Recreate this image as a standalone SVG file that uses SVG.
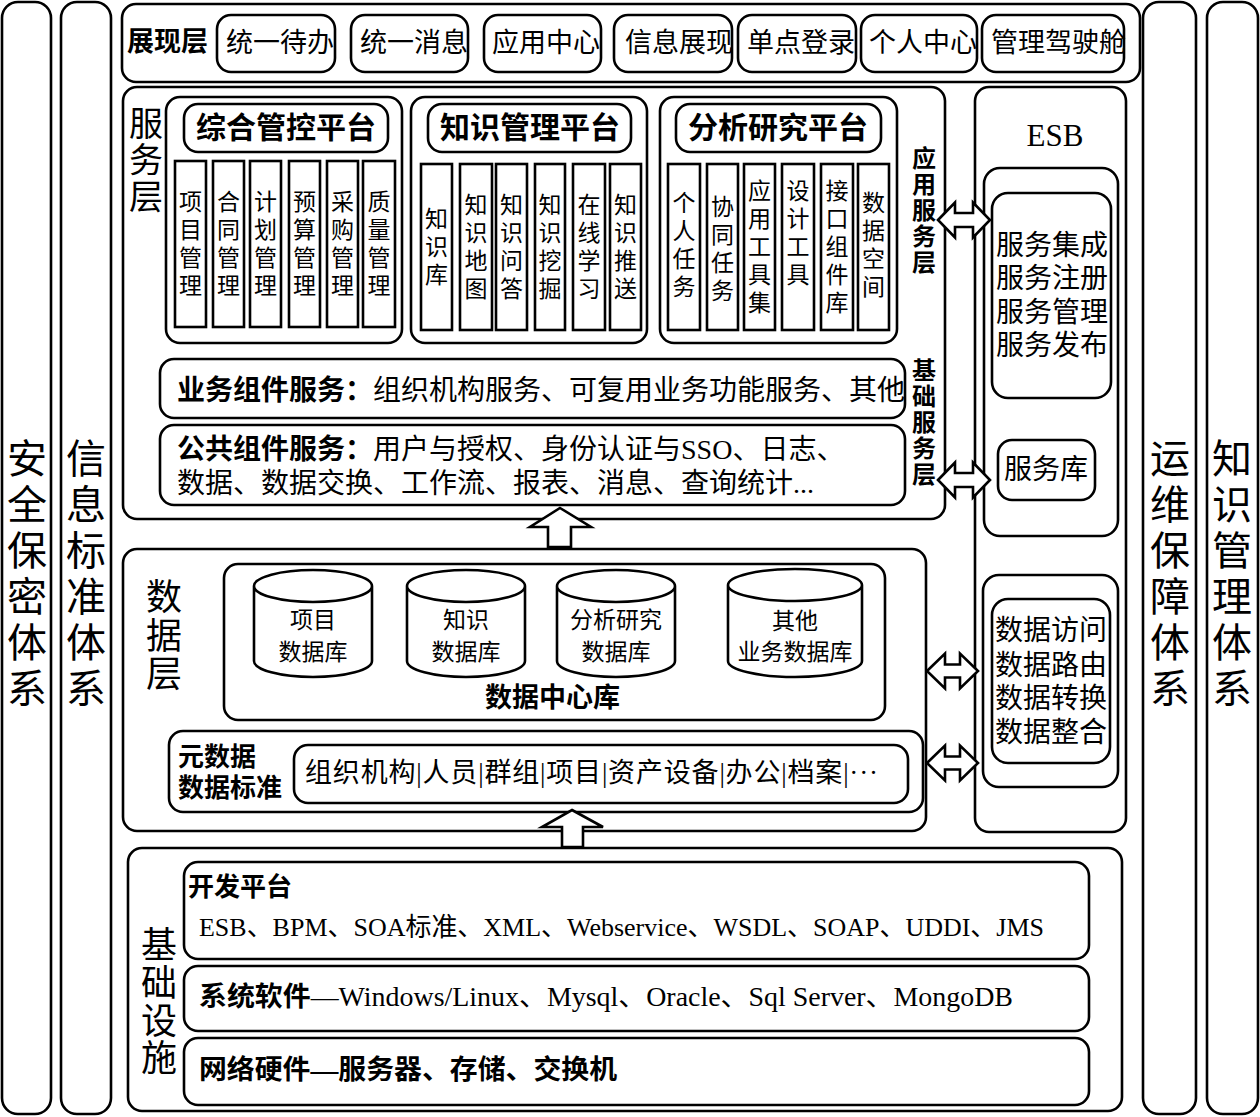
<svg xmlns="http://www.w3.org/2000/svg" width="1260" height="1117" viewBox="0 0 1260 1117">
<style>
.b{fill:none;stroke:#000;stroke-width:2.6}
.w{fill:#fff;stroke:#000;stroke-width:2.6;stroke-linejoin:miter}
text{font-family:"Liberation Serif","Noto Sans CJK SC",sans-serif;fill:#000;dominant-baseline:central}
.k{font-weight:bold}
.m{text-anchor:middle}
.s40{font-size:40px}
.s36{font-size:36px}
.col{font-size:23px;text-anchor:middle}
.it{font-size:27px}
</style>
<rect width="1260" height="1117" fill="#fff"/>

<g id="security">
<rect class="b" x="2" y="2" width="49" height="1112" rx="16"/>
<text class="s40 m"><tspan x="27" y="459">安</tspan><tspan x="27" y="505">全</tspan><tspan x="27" y="551">保</tspan><tspan x="27" y="597">密</tspan><tspan x="27" y="643">体</tspan><tspan x="27" y="689">系</tspan></text>
</g>
<g id="infostd">
<rect class="b" x="61" y="2" width="50" height="1112" rx="16"/>
<text class="s40 m"><tspan x="86" y="459">信</tspan><tspan x="86" y="505">息</tspan><tspan x="86" y="551">标</tspan><tspan x="86" y="597">准</tspan><tspan x="86" y="643">体</tspan><tspan x="86" y="689">系</tspan></text>
</g>
<g id="ops">
<rect class="b" x="1143" y="2" width="53" height="1112" rx="16"/>
<text class="s40 m"><tspan x="1170" y="459">运</tspan><tspan x="1170" y="505">维</tspan><tspan x="1170" y="551">保</tspan><tspan x="1170" y="597">障</tspan><tspan x="1170" y="643">体</tspan><tspan x="1170" y="689">系</tspan></text>
</g>
<g id="km">
<rect class="b" x="1207" y="2" width="51" height="1112" rx="16"/>
<text class="s40 m"><tspan x="1232" y="459">知</tspan><tspan x="1232" y="505">识</tspan><tspan x="1232" y="551">管</tspan><tspan x="1232" y="597">理</tspan><tspan x="1232" y="643">体</tspan><tspan x="1232" y="689">系</tspan></text>
</g>

<g id="presentation">
<rect class="b" x="122" y="4" width="1018" height="78" rx="14"/>
<text class="k" x="127" y="42" font-size="27">展现层</text>
<g id="p1"><rect class="b" x="217" y="15" width="118" height="57" rx="14"/><text class="it" x="226" y="43">统一待办</text></g>
<g id="p2"><rect class="b" x="351" y="15" width="117" height="57" rx="14"/><text class="it" x="360" y="43">统一消息</text></g>
<g id="p3"><rect class="b" x="484" y="15" width="117" height="57" rx="14"/><text class="it" x="492" y="43">应用中心</text></g>
<g id="p4"><rect class="b" x="614" y="15" width="118" height="57" rx="14"/><text class="it" x="625" y="43">信息展现</text></g>
<g id="p5"><rect class="b" x="738" y="15" width="118" height="57" rx="14"/><text class="it" x="747" y="43">单点登录</text></g>
<g id="p6"><rect class="b" x="861" y="15" width="116" height="57" rx="14"/><text class="it" x="869" y="43">个人中心</text></g>
<g id="p7"><rect class="b" x="982" y="15" width="142" height="57" rx="14"/><text class="it" x="991" y="43">管理驾驶舱</text></g>
</g>

<g id="service">
<rect class="b" x="123" y="87" width="822" height="432" rx="14"/>
<text class="m" font-size="34"><tspan x="146" y="124">服</tspan><tspan x="146" y="160">务</tspan><tspan x="146" y="197">层</tspan></text>
<text class="k m" font-size="24"><tspan x="924" y="159">应</tspan><tspan x="924" y="185">用</tspan><tspan x="924" y="211">服</tspan><tspan x="924" y="237">务</tspan><tspan x="924" y="263">层</tspan></text>
<text class="k m" font-size="24"><tspan x="924" y="371">基</tspan><tspan x="924" y="397">础</tspan><tspan x="924" y="423">服</tspan><tspan x="924" y="449">务</tspan><tspan x="924" y="475">层</tspan></text>
</g>

<g id="zhgk">
<rect class="b" x="166" y="97" width="236" height="246" rx="14"/>
<rect class="b" x="184" y="104" width="204" height="48" rx="14"/>
<text class="k m" x="286" y="127" font-size="30">综合管控平台</text>
<rect class="b" x="175" y="161" width="31" height="166"/>
<text class="col"><tspan x="190.5" y="202">项</tspan><tspan x="190.5" y="230">目</tspan><tspan x="190.5" y="258">管</tspan><tspan x="190.5" y="286">理</tspan></text>
<rect class="b" x="213" y="161" width="31" height="166"/>
<text class="col"><tspan x="228.5" y="202">合</tspan><tspan x="228.5" y="230">同</tspan><tspan x="228.5" y="258">管</tspan><tspan x="228.5" y="286">理</tspan></text>
<rect class="b" x="250" y="161" width="31" height="166"/>
<text class="col"><tspan x="265.5" y="202">计</tspan><tspan x="265.5" y="230">划</tspan><tspan x="265.5" y="258">管</tspan><tspan x="265.5" y="286">理</tspan></text>
<rect class="b" x="289" y="161" width="31" height="166"/>
<text class="col"><tspan x="304.5" y="202">预</tspan><tspan x="304.5" y="230">算</tspan><tspan x="304.5" y="258">管</tspan><tspan x="304.5" y="286">理</tspan></text>
<rect class="b" x="327" y="161" width="31" height="166"/>
<text class="col"><tspan x="342.5" y="202">采</tspan><tspan x="342.5" y="230">购</tspan><tspan x="342.5" y="258">管</tspan><tspan x="342.5" y="286">理</tspan></text>
<rect class="b" x="363" y="161" width="32" height="166"/>
<text class="col"><tspan x="379" y="202">质</tspan><tspan x="379" y="230">量</tspan><tspan x="379" y="258">管</tspan><tspan x="379" y="286">理</tspan></text>
</g>

<g id="zsgl">
<rect class="b" x="411" y="97" width="236" height="246" rx="14"/>
<rect class="b" x="428" y="104" width="203" height="48" rx="14"/>
<text class="k m" x="530" y="127" font-size="30">知识管理平台</text>
<rect class="b" x="421" y="164" width="31" height="166"/>
<text class="col"><tspan x="436.5" y="219">知</tspan><tspan x="436.5" y="247">识</tspan><tspan x="436.5" y="275">库</tspan></text>
<rect class="b" x="460" y="164" width="32" height="166"/>
<text class="col"><tspan x="476" y="205">知</tspan><tspan x="476" y="233">识</tspan><tspan x="476" y="261">地</tspan><tspan x="476" y="289">图</tspan></text>
<rect class="b" x="496" y="164" width="31" height="166"/>
<text class="col"><tspan x="511.5" y="205">知</tspan><tspan x="511.5" y="233">识</tspan><tspan x="511.5" y="261">问</tspan><tspan x="511.5" y="289">答</tspan></text>
<rect class="b" x="535" y="164" width="30" height="166"/>
<text class="col"><tspan x="550" y="205">知</tspan><tspan x="550" y="233">识</tspan><tspan x="550" y="261">挖</tspan><tspan x="550" y="289">掘</tspan></text>
<rect class="b" x="573" y="164" width="32" height="166"/>
<text class="col"><tspan x="589" y="205">在</tspan><tspan x="589" y="233">线</tspan><tspan x="589" y="261">学</tspan><tspan x="589" y="289">习</tspan></text>
<rect class="b" x="610" y="164" width="31" height="166"/>
<text class="col"><tspan x="625.5" y="205">知</tspan><tspan x="625.5" y="233">识</tspan><tspan x="625.5" y="261">推</tspan><tspan x="625.5" y="289">送</tspan></text>
</g>

<g id="fxyj">
<rect class="b" x="660" y="97" width="237" height="246" rx="14"/>
<rect class="b" x="676" y="104" width="205" height="48" rx="14"/>
<text class="k m" x="778" y="127" font-size="30">分析研究平台</text>
<rect class="b" x="668" y="164" width="32" height="166"/>
<text class="col"><tspan x="684" y="203">个</tspan><tspan x="684" y="231">人</tspan><tspan x="684" y="259">任</tspan><tspan x="684" y="287">务</tspan></text>
<rect class="b" x="707" y="164" width="31" height="166"/>
<text class="col"><tspan x="722.5" y="207">协</tspan><tspan x="722.5" y="235">同</tspan><tspan x="722.5" y="263">任</tspan><tspan x="722.5" y="291">务</tspan></text>
<rect class="b" x="744" y="164" width="31" height="166"/>
<text class="col"><tspan x="759.5" y="191">应</tspan><tspan x="759.5" y="219">用</tspan><tspan x="759.5" y="247">工</tspan><tspan x="759.5" y="275">具</tspan><tspan x="759.5" y="303">集</tspan></text>
<rect class="b" x="782" y="164" width="32" height="166"/>
<text class="col"><tspan x="798" y="191">设</tspan><tspan x="798" y="219">计</tspan><tspan x="798" y="247">工</tspan><tspan x="798" y="275">具</tspan></text>
<rect class="b" x="821" y="164" width="32" height="166"/>
<text class="col"><tspan x="837" y="191">接</tspan><tspan x="837" y="219">口</tspan><tspan x="837" y="247">组</tspan><tspan x="837" y="275">件</tspan><tspan x="837" y="303">库</tspan></text>
<rect class="b" x="858" y="164" width="31" height="166"/>
<text class="col"><tspan x="873.5" y="203">数</tspan><tspan x="873.5" y="231">据</tspan><tspan x="873.5" y="259">空</tspan><tspan x="873.5" y="287">间</tspan></text>
</g>

<g id="bizcomp">
<rect class="b" x="160" y="359" width="745" height="59" rx="14"/>
<text x="177" y="390" font-size="28"><tspan class="k">业务组件服务：</tspan>组织机构服务、可复用业务功能服务、其他</text>
</g>
<g id="pubcomp">
<rect class="b" x="160" y="425" width="745" height="80" rx="14"/>
<text x="177" y="449" font-size="28"><tspan class="k">公共组件服务：</tspan>用户与授权、身份认证与SSO、日志、</text>
<text x="177" y="483" font-size="28">数据、数据交换、工作流、报表、消息、查询统计...</text>
</g>

<g id="data">
<rect class="b" x="123" y="549" width="803" height="282" rx="14"/>
<text class="s36 m"><tspan x="164" y="598">数</tspan><tspan x="164" y="637">据</tspan><tspan x="164" y="675">层</tspan></text>
</g>
<g id="datacenter">
<rect class="b" x="224" y="564" width="661" height="156" rx="14"/>
<text class="k" x="485" y="698" font-size="27">数据中心库</text>
<g id="db1">
<path class="b" d="M254,586 A59,16 0 0 1 372,586 L372,661 A59,16 0 0 1 254,661 Z M254,586 A59,16 0 0 0 372,586"/>
<text class="m" x="313" y="620" font-size="23">项目</text><text class="m" x="313" y="652" font-size="23">数据库</text>
</g>
<g id="db2">
<path class="b" d="M407,586 A59,16 0 0 1 525,586 L525,661 A59,16 0 0 1 407,661 Z M407,586 A59,16 0 0 0 525,586"/>
<text class="m" x="466" y="620" font-size="23">知识</text><text class="m" x="466" y="652" font-size="23">数据库</text>
</g>
<g id="db3">
<path class="b" d="M557,586 A59,16 0 0 1 675,586 L675,661 A59,16 0 0 1 557,661 Z M557,586 A59,16 0 0 0 675,586"/>
<text class="m" x="616" y="620" font-size="23">分析研究</text><text class="m" x="616" y="652" font-size="23">数据库</text>
</g>
<g id="db4">
<path class="b" d="M728,585 A67,16 0 0 1 862,585 L862,661 A67,16 0 0 1 728,661 Z M728,585 A67,16 0 0 0 862,585"/>
<text class="m" x="795" y="621" font-size="23">其他</text><text class="m" x="795" y="652" font-size="23">业务数据库</text>
</g>
</g>

<g id="metadata">
<rect class="b" x="169" y="731" width="754" height="81" rx="14"/>
<text class="k" x="178" y="757" font-size="26">元数据</text>
<text class="k" x="178" y="788" font-size="26">数据标准</text>
<rect class="b" x="294" y="745" width="614" height="58" rx="14"/>
<text x="305" y="773" font-size="27" textLength="573" lengthAdjust="spacing">组织机构|人员|群组|项目|资产设备|办公|档案|···</text>
</g>

<g id="esb">
<rect class="b" x="975" y="87" width="151" height="745" rx="14"/>
<text class="m" x="1055" y="135" font-size="31">ESB</text>
<rect class="b" x="984" y="168" width="134" height="368" rx="16"/>
<rect class="b" x="992" y="193" width="119" height="205" rx="16"/>
<text class="m" font-size="28"><tspan x="1052" y="245">服务集成</tspan><tspan x="1052" y="278">服务注册</tspan><tspan x="1052" y="312">服务管理</tspan><tspan x="1052" y="345">服务发布</tspan></text>
<rect class="b" x="998" y="440" width="97" height="60" rx="14"/>
<text class="m" x="1046" y="469" font-size="28">服务库</text>
<rect class="b" x="983" y="575" width="135" height="212" rx="16"/>
<rect class="b" x="992" y="599" width="118" height="164" rx="16"/>
<text class="m" font-size="28"><tspan x="1051" y="630">数据访问</tspan><tspan x="1051" y="665">数据路由</tspan><tspan x="1051" y="698">数据转换</tspan><tspan x="1051" y="732">数据整合</tspan></text>
</g>

<g id="infra">
<rect class="b" x="128" y="848" width="994" height="263" rx="14"/>
<text class="s36 m"><tspan x="159" y="946">基</tspan><tspan x="159" y="984">础</tspan><tspan x="159" y="1022">设</tspan><tspan x="159" y="1059">施</tspan></text>
</g>
<g id="devplat">
<rect class="b" x="184" y="862" width="905" height="97" rx="14"/>
<text class="k" x="188" y="887" font-size="26">开发平台</text>
<text x="199" y="927" font-size="26" textLength="845" lengthAdjust="spacingAndGlyphs">ESB、BPM、SOA标准、XML、Webservice、WSDL、SOAP、UDDI、JMS</text>
</g>
<g id="syssoft">
<rect class="b" x="184" y="966" width="905" height="65" rx="14"/>
<text x="199" y="997" font-size="27" textLength="814" lengthAdjust="spacingAndGlyphs"><tspan class="k">系统软件</tspan>—Windows/Linux、Mysql、Oracle、Sql Server、MongoDB</text>
</g>
<g id="nethw">
<rect class="b" x="184" y="1038" width="905" height="67" rx="14"/>
<text class="k" x="199" y="1070" font-size="27" textLength="418" lengthAdjust="spacingAndGlyphs">网络硬件—服务器、存储、交换机</text>
</g>

<g id="connectors">
<path class="w" d="M938,220 L955,202.5 L955,213 L973,213 L973,202.5 L990,220 L973,237.5 L973,227 L955,227 L955,237.5 Z"/>
<path class="w" d="M938,480 L955,462.5 L955,473 L973,473 L973,462.5 L990,480 L973,497.5 L973,487 L955,487 L955,497.5 Z"/>
<path class="w" d="M927,671 L945,653.5 L945,664.5 L960,664.5 L960,653.5 L978,671 L960,688.5 L960,677.5 L945,677.5 L945,688.5 Z"/>
<path class="w" d="M927,763 L945,745.5 L945,756.5 L960,756.5 L960,745.5 L978,763 L960,780.5 L960,769.5 L945,769.5 L945,780.5 Z"/>
<path class="w" d="M560,508 L591,527 L571,527 L571,547 L548,547 L548,527 L530,527 Z"/>
<path class="w" d="M572,810 L603,827 L583,827 L583,847 L562,847 L562,827 L542,827 Z"/>
</g>
</svg>
